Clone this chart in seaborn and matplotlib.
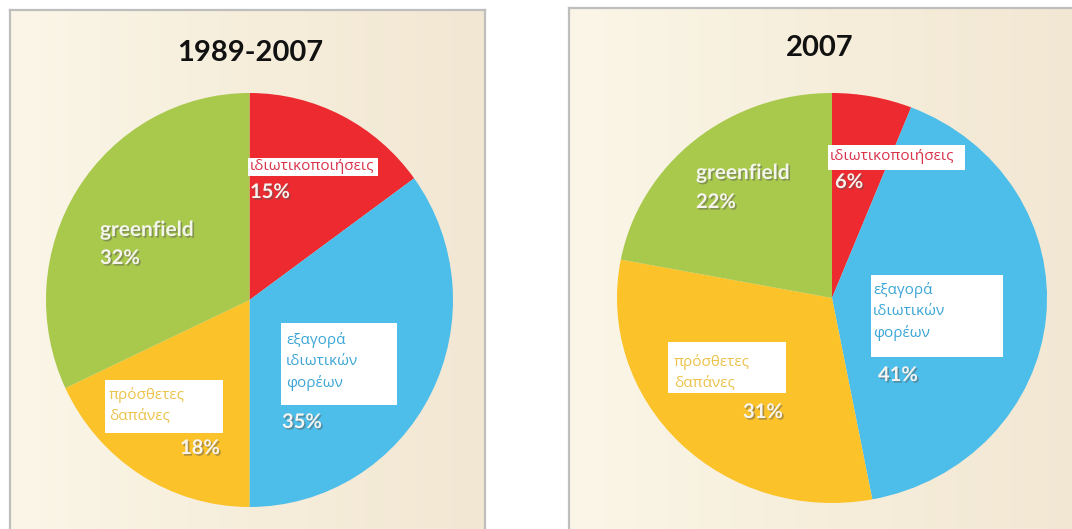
import numpy as np
import matplotlib
matplotlib.use("Agg")
import matplotlib.pyplot as plt
import matplotlib.patheffects as pe
from matplotlib.patches import Rectangle
import seaborn as sns

# Shares of FDI entry modes (clockwise from 12 o'clock)
categories = ["ιδιωτικοποιήσεις", "εξαγορά ιδιωτικών φορέων", "πρόσθετες δαπάνες", "greenfield"]
label_lines = [["ιδιωτικοποιήσεις"], ["εξαγορά", "ιδιωτικών", "φορέων"], ["πρόσθετες", "δαπάνες"], ["greenfield"]]
period_titles = ["1989-2007", "2007"]
shares_1989_2007 = [15, 35, 18, 32]
shares_2007 = [6, 41, 31, 22]

colors = ["#EC2A30", "#4DBDE9", "#FBC22A", "#A9C94D"]
text_colors = ["#D9334A", "#3BA6D6", "#EDC24A", None]

sns.set_theme(style="white")
plt.rcParams["font.family"] = ["Lato", "Open Sans", "DejaVu Sans"]

W, H = 1072, 529
fig = plt.figure(figsize=(W / 100, H / 100), dpi=100)
fig.patch.set_facecolor("white")


def fig_box(x0, y0, x1, y1):
    """Pixel box (top-left origin) -> figure fraction [left, bottom, width, height]."""
    return [x0 / W, 1 - y1 / H, (x1 - x0) / W, (y1 - y0) / H]


def fxy(x, y):
    return x / W, 1 - y / H


# Panel backgrounds with a soft cream gradient
grad = np.linspace(0, 1, 256)[None, :]
cream = matplotlib.colors.LinearSegmentedColormap.from_list(
    "cream", ["#FBF6E8", "#F6EEDB", "#F2E7D3"])
for (x0, y0, x1, y1) in [(10, 10, 485, 535), (569, 8, 1085, 535)]:
    bg = fig.add_axes(fig_box(x0, y0, x1, y1), zorder=-2)
    bg.imshow(grad, aspect="auto", cmap=cream, extent=[0, 1, 0, 1])
    bg.set_xticks([]); bg.set_yticks([])
    for s in bg.spines.values():
        s.set_color("#BEBEBE"); s.set_linewidth(1.6)

panels = [
    dict(shares=shares_1989_2007, title=period_titles[0], pie=(46, 93, 453, 507), title_xy=(250, 53),
         boxes=[(248, 158, 378, 176), (281, 323, 397, 405), (105, 380, 223, 433)],
         text_xy=[(250, 167), (286, 340), (109, 395), (100, 230)],
         pct_xy=[(250, 192), (282, 422), (180, 448), (100, 258)]),
    dict(shares=shares_2007, title=period_titles[1], pie=(617, 93, 1047, 503), title_xy=(820, 48),
         boxes=[(828, 145, 965, 170), (871, 275, 1003, 357), (668, 342, 786, 393)],
         text_xy=[(830, 157), (873, 290), (674, 362), (696, 173)],
         pct_xy=[(835, 182), (878, 375), (743, 412), (696, 202)]),
]

shadow = [pe.SimplePatchShadow(offset=(1.2, -1.2), alpha=0.45, shadow_rgbFace="#555555"), pe.Normal()]

for p in panels:
    ax = fig.add_axes(fig_box(*p["pie"]), zorder=0)
    ax.pie(p["shares"], colors=colors, startangle=90, counterclock=False,
           wedgeprops=dict(linewidth=0))
    ax.set_aspect("auto")
    ax.set_xlim(-1, 1); ax.set_ylim(-1, 1)
    ax.set_facecolor("none")
    ax.axis("off")

    fig.text(*fxy(*p["title_xy"]), p["title"], ha="center", va="center",
             fontsize=21, fontweight="bold", color="#111111", zorder=6)

    # White label boxes with coloured category names
    for i, (x0, y0, x1, y1) in enumerate(p["boxes"]):
        fig.add_artist(Rectangle(fxy(x0, y1), (x1 - x0) / W, (y1 - y0) / H,
                                 transform=fig.transFigure, facecolor="white",
                                 edgecolor="none", zorder=4))
        tx, ty = p["text_xy"][i]
        for j, line in enumerate(label_lines[i]):
            fig.text(*fxy(tx, ty + j * 21.5), line, ha="left", va="center",
                     fontsize=11, family=["Open Sans", "DejaVu Sans"],
                     color=text_colors[i], zorder=6)

    # greenfield sits directly on its wedge
    gx, gy = p["text_xy"][3]
    fig.text(*fxy(gx, gy), label_lines[3][0], ha="left", va="center", fontsize=15,
             fontweight="bold", color="#F4F6EC", zorder=6, path_effects=shadow)

    for i, v in enumerate(p["shares"]):
        px, py = p["pct_xy"][i]
        fig.text(*fxy(px, py), f"{v}%", ha="left", va="center", fontsize=14.5,
                 fontweight="bold", color="#F7F4F0", zorder=6, path_effects=shadow)

fig.savefig("out.png", dpi=100, facecolor="white")
